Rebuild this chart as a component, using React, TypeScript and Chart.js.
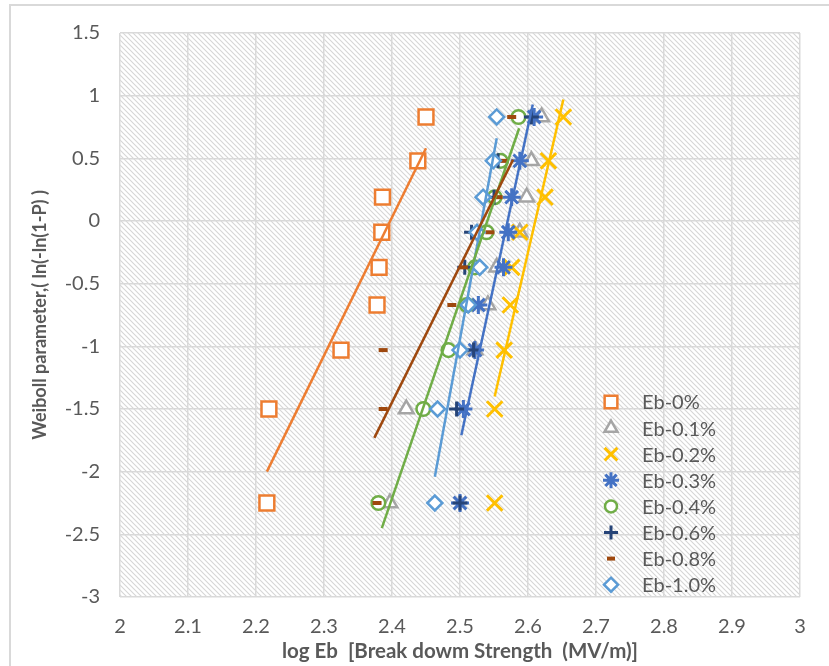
import React, { useEffect, useRef } from 'react';
import { Chart, registerables } from 'chart.js';
import { drawPoint } from 'chart.js/helpers';

Chart.register(...registerables);

// ---- data ----
const seriesNames = ['Eb-0%', 'Eb-0.1%', 'Eb-0.2%', 'Eb-0.3%', 'Eb-0.4%', 'Eb-0.6%', 'Eb-0.8%', 'Eb-1.0%'];
const weibullY = [-2.25, -1.5, -1.03, -0.67, -0.37, -0.09, 0.19, 0.48, 0.83];
const eb00 = [2.216, 2.219, 2.325, 2.378, 2.381, 2.385, 2.386, 2.438, 2.45];
const eb01 = [2.397, 2.421, 2.522, 2.541, 2.554, 2.588, 2.598, 2.605, 2.62];
const eb02 = [2.551, 2.551, 2.565, 2.574, 2.576, 2.588, 2.625, 2.63, 2.652];
const eb03 = [2.5, 2.505, 2.522, 2.527, 2.564, 2.571, 2.576, 2.588, 2.609];
const eb04 = [2.38, 2.446, 2.483, 2.51, 2.522, 2.539, 2.551, 2.56, 2.586];
const eb06 = [2.5, 2.495, 2.52, 2.512, 2.507, 2.517, 2.55, 2.556, 2.605];
const eb08 = [2.378, 2.387, 2.387, 2.488, 2.505, 2.544, 2.556, 2.565, 2.576];
const eb10 = [2.463, 2.467, 2.5, 2.512, 2.529, 2.525, 2.534, 2.549, 2.554];
const seriesX = [eb00, eb01, eb02, eb03, eb04, eb06, eb08, eb10];

// linear trend lines (start / end), series index they belong to
const trendSeries = [0, 6, 4, 7, 3, 2];
const trendX = [[2.216, 2.45], [2.374, 2.578], [2.385, 2.587], [2.463, 2.554], [2.502, 2.607], [2.551, 2.652]];
const trendY = [[-2.0, 0.58], [-1.73, 0.49], [-2.45, 0.74], [-2.04, 0.66], [-1.71, 0.93], [-1.4, 0.97]];

const xTickLabels = ['2', '2.1', '2.2', '2.3', '2.4', '2.5', '2.6', '2.7', '2.8', '2.9', '3'];
const yTickLabels = ['-3', '-2.5', '-2', '-1.5', '-1', '-0.5', '0', '0.5', '1', '1.5'];

// ---- styles ----
const colors = ['#ED7D31', '#A5A5A5', '#FFC000', '#4472C4', '#70AD47', '#264478', '#9E480E', '#5B9BD5'];
const styles = ['rect', 'triangle', 'crossRot', 'star', 'circle', 'cross', 'line', 'rectRot'];
const radii = [10.5, 8.5, 11, 9, 6.8, 7.5, 4.5, 7.5];
const widths = [2.5, 2.5, 3, 3, 2.5, 3, 4, 2.5];
const legendRadii = [9, 7.5, 9, 8, 6, 7, 4, 7];
const FONT = 'Lato, "Open Sans", sans-serif';
const TEXT = '#595959';

const W = 829;
const H = 666;

function makeHatch(): CanvasPattern | string {
  const c = document.createElement('canvas');
  const s = 5;
  c.width = s;
  c.height = s;
  const g = c.getContext('2d');
  if (!g) return '#eeeeee';
  g.fillStyle = '#ffffff';
  g.fillRect(0, 0, s, s);
  g.strokeStyle = '#d6d6d6';
  g.lineWidth = 1.1;
  g.beginPath();
  g.moveTo(-1, -1);
  g.lineTo(s + 1, s + 1);
  g.moveTo(-1, s - 1);
  g.lineTo(1, s + 1);
  g.moveTo(s - 1, -1);
  g.lineTo(s + 1, 1);
  g.stroke();
  const p = g.createPattern(c, 'repeat');
  return p || '#eeeeee';
}

const backgroundPlugin = {
  id: 'bgHatch',
  beforeDraw(chart: any) {
    const { ctx, chartArea } = chart;
    ctx.save();
    ctx.fillStyle = '#ffffff';
    ctx.fillRect(0, 0, W, H);
    ctx.strokeStyle = '#d9d9d9';
    ctx.lineWidth = 2;
    ctx.strokeRect(10, 5, W + 20, H + 20);
    ctx.fillStyle = makeHatch();
    ctx.fillRect(chartArea.left, chartArea.top, chartArea.right - chartArea.left, chartArea.bottom - chartArea.top);
    ctx.restore();
  },
};

const legendPlugin = {
  id: 'insideLegend',
  afterDraw(chart: any) {
    const { ctx } = chart;
    ctx.save();
    const markerX = 611;
    const textX = 642;
    const top = 402;
    const step = 26.1;
    seriesNames.forEach((name, i) => {
      const y = top + i * step;
      ctx.strokeStyle = colors[i];
      ctx.fillStyle = '#ffffff';
      ctx.lineWidth = widths[i];
      drawPoint(ctx, { pointStyle: styles[i], rotation: 0, borderWidth: widths[i], radius: legendRadii[i] } as any, markerX, y);
      ctx.fillStyle = TEXT;
      ctx.font = `20px ${FONT}`;
      ctx.textAlign = 'left';
      ctx.textBaseline = 'middle';
      ctx.fillText(name, textX, y + 1);
    });
    ctx.restore();
  },
};

export default function App() {
  const ref = useRef<HTMLCanvasElement | null>(null);

  useEffect(() => {
    if (!ref.current) return;
    const pointSets = seriesNames.map((name, i) => ({
      type: 'scatter' as const,
      label: name,
      data: seriesX[i].map((x, k) => ({ x, y: weibullY[k] })),
      pointStyle: styles[i],
      pointRadius: radii[i],
      pointBorderWidth: widths[i],
      borderColor: colors[i],
      backgroundColor: '#ffffff',
      pointBackgroundColor: '#ffffff',
      pointBorderColor: colors[i],
      showLine: false,
      order: 100 - i,
    }));
    const lineSets = trendSeries.map((si, j) => ({
      type: 'scatter' as const,
      label: 'trend ' + seriesNames[si],
      data: trendX[j].map((x, k) => ({ x, y: trendY[j][k] })),
      showLine: true,
      pointRadius: 0,
      borderColor: colors[si],
      backgroundColor: colors[si],
      borderWidth: 2.5,
      fill: false,
      order: 1,
    }));

    const chart = new Chart(ref.current, {
      type: 'scatter',
      data: { datasets: [...pointSets, ...lineSets] as any },
      plugins: [backgroundPlugin, legendPlugin],
      options: {
        animation: false,
        responsive: false,
        events: [],
        layout: { padding: { left: 10, right: 29, top: 33, bottom: 0 } },
        plugins: {
          legend: { display: false },
          tooltip: { enabled: false },
          title: { display: false },
        },
        scales: {
          x: {
            type: 'linear',
            min: 2,
            max: 3,
            afterFit: (s: any) => { s.height = 69; },
            afterBuildTicks: (s: any) => {
              s.ticks = xTickLabels.map((_, i) => ({ value: 2 + i * 0.1 }));
            },
            ticks: {
              callback: (_v: any, i: number) => xTickLabels[i],
              font: { family: FONT, size: 20 },
              color: TEXT,
              padding: 18,
              maxRotation: 0,
            },
            grid: { color: '#d9d9d9', lineWidth: 1.5, drawTicks: false },
            border: { display: false },
            title: {
              display: true,
              text: 'log Eb  [Break dowm Strength  (MV/m)]',
              font: { family: FONT, size: 20.5, weight: 'bold' },
              color: TEXT,
              padding: { top: 0, bottom: 2 },
            },
          },
          y: {
            type: 'linear',
            min: -3,
            max: 1.5,
            afterFit: (s: any) => { s.width = 110; },
            afterBuildTicks: (s: any) => {
              s.ticks = yTickLabels.map((_, i) => ({ value: -3 + i * 0.5 }));
            },
            ticks: {
              callback: (_v: any, i: number) => yTickLabels[i],
              font: { family: FONT, size: 20 },
              color: TEXT,
              padding: 20,
            },
            grid: { color: '#d9d9d9', lineWidth: 1.5, drawTicks: false },
            border: { display: false },
            title: {
              display: true,
              text: 'Weiboll parameter,( ln(-ln(1-P) )',
              font: { family: FONT, size: 18, weight: 'bold' },
              color: TEXT,
              padding: { top: 19, bottom: 0 },
            },
          },
        },
      } as any,
    });
    return () => chart.destroy();
  }, []);

  return (
    <div style={{ position: 'absolute', left: 0, top: 0, width: W, height: H, background: '#ffffff' }}>
      <canvas ref={ref} width={W} height={H} style={{ display: 'block' }} />
    </div>
  );
}
